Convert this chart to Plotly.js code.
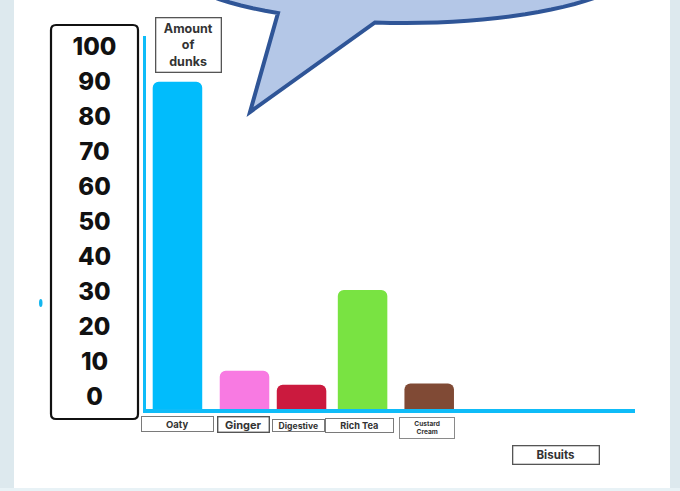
<!DOCTYPE html>
<html><head><meta charset="utf-8">
<script src="https://cdn.plot.ly/plotly-3.0.1.min.js"></script>
<style>html,body{margin:0;padding:0;background:#dde9ee;} #chart{width:680px;height:491px;}</style>
</head><body><div id="chart"></div>
<script>
// ---- data ----
const categories = ["Oaty", "Ginger", "Digestive", "Rich Tea", "Custard Cream"];
const categoryLabels = ["Oaty", "Ginger", "Digestive", "Rich Tea", "Custard<br>Cream"];
const dunks = [93.5, 10.9, 6.9, 34, 7.3];
const barColors = ["#01bcfc", "#f87ae2", "#cb1a3e", "#79e342", "#804a35"];
const yTickVals = [0, 10, 20, 30, 40, 50, 60, 70, 80, 90, 100];
const yTickText = ["0", "10", "20", "30", "40", "50", "60", "70", "80", "90", "100"];
const yTitle = "Amount<br>of<br>dunks";
const xTitle = "Bisuits";

// ---- geometry helpers (page pixels -> paper) ----
const L = 146, R = 635, T = 36, B = 409;
const PW = R - L, PH = B - T;
const px = x => (x - L) / PW;
const py = y => (B - y) / PH;
const PXPERUNIT = 3.5;
const X_RANGE = [-0.5, 7.27];
const PX_PER_CAT = PW / (X_RANGE[1] - X_RANGE[0]);
const BAR_W = 0.787;

// hand-placed styling (pixels)
const barShiftPx = [0, 4.1, -1.8, -3.7, 0];
const labelStyle = [
  {dx: 0.5,  cy: 423.7, w: 72.6, h: 16,   size: 9.5, border: "#7a7a7a", bw: 1},
  {dx: 2.6,  cy: 424.2, w: 52.6, h: 17,   size: 11,  border: "#555",    bw: 1.4},
  {dx: -5.3, cy: 425,   w: 52.6, h: 13.4, size: 8.6, border: "#7a7a7a", bw: 1},
  {dx: -6.8, cy: 425,   w: 68.7, h: 15.4, size: 9.2, border: "#7a7a7a", bw: 1},
  {dx: -2,   cy: 428.3, w: 56.3, h: 22,   size: 6.6, border: "#8a8a8a", bw: 1}
];

const FONT = "Inter, 'Open Sans', 'DejaVu Sans', sans-serif";

// speech bubble path
function bubblePath() {
  const cx = 405, cy = -42, rx = 240, ry = 65;
  const tip = [250, 112];
  const t1 = Math.acos((375 - cx) / rx);
  const t2 = Math.acos((278 - cx) / rx) - 2 * Math.PI;
  let d = "M" + px(tip[0]) + "," + py(tip[1]);
  const n = 90;
  for (let i = 0; i <= n; i++) {
    const t = t1 + (t2 - t1) * i / n;
    const x = cx + rx * Math.cos(t), y = cy + ry * Math.sin(t);
    d += " L" + px(x) + "," + py(y);
  }
  d += " Z";
  return d;
}
function roundRect(x0, y0, x1, y1, r) {
  const P = (x, y) => px(x) + "," + py(y);
  return "M" + P(x0 + r, y0) + " L" + P(x1 - r, y0) + " Q" + P(x1, y0) + " " + P(x1, y0 + r) +
    " L" + P(x1, y1 - r) + " Q" + P(x1, y1) + " " + P(x1 - r, y1) +
    " L" + P(x0 + r, y1) + " Q" + P(x0, y1) + " " + P(x0, y1 - r) +
    " L" + P(x0, y0 + r) + " Q" + P(x0, y0) + " " + P(x0 + r, y0) + " Z";
}

const trace = {
  type: "bar",
  x: categories,
  y: dunks,
  width: BAR_W,
  offset: barShiftPx.map(s => -BAR_W / 2 + s / PX_PER_CAT),
  marker: {color: barColors, cornerradius: 6, line: {width: 0}},
  hoverinfo: "x+y"
};

const annotations = categories.map((c, i) => ({
  xref: "x", yref: "paper", x: c, y: py(labelStyle[i].cy), xshift: labelStyle[i].dx,
  xanchor: "center", yanchor: "middle", showarrow: false,
  text: categoryLabels[i],
  width: labelStyle[i].w - 2 * labelStyle[i].bw, height: labelStyle[i].h - 2 * labelStyle[i].bw,
  bordercolor: labelStyle[i].border, borderwidth: labelStyle[i].bw, borderpad: 0, bgcolor: "#ffffff",
  font: {family: FONT, size: labelStyle[i].size, color: "#333", weight: 700}
}));
annotations.push({
  xref: "paper", yref: "paper", x: px(188.3), y: py(45), xanchor: "center", yanchor: "middle",
  showarrow: false, text: yTitle, width: 64, height: 53,
  bordercolor: "#555", borderwidth: 1.3, borderpad: 0, bgcolor: "#ffffff",
  font: {family: FONT, size: 12.5, color: "#333", weight: 700}
});
annotations.push({
  xref: "paper", yref: "paper", x: px(556), y: py(454.5), xanchor: "center", yanchor: "middle",
  showarrow: false, text: xTitle, width: 85, height: 17,
  bordercolor: "#555", borderwidth: 1.3, borderpad: 0, bgcolor: "#ffffff",
  font: {family: FONT, size: 11.5, color: "#333", weight: 700}
});

const shapes = [
  {type: "rect", xref: "paper", yref: "paper", x0: px(14), x1: px(670), y0: py(488), y1: py(0),
   fillcolor: "#ffffff", line: {width: 0}, layer: "below"},
  {type: "rect", xref: "paper", yref: "paper", x0: px(0), x1: px(680), y0: py(491), y1: py(488),
   fillcolor: "#e8f2f6", line: {width: 0}, layer: "below"},
  {type: "path", xref: "paper", yref: "paper", path: roundRect(51, 25, 138, 419, 5),
   fillcolor: "rgba(0,0,0,0)", line: {color: "#111", width: 2.2}, layer: "above"},
  {type: "path", xref: "paper", yref: "paper", path: bubblePath(),
   fillcolor: "#b4c7e7", line: {color: "#2f5597", width: 4}, layer: "above"},
  {type: "circle", xref: "paper", yref: "paper", x0: px(39), x1: px(42.5), y0: py(307), y1: py(299),
   fillcolor: "#13b6ef", line: {width: 0}}
];

const layout = {
  width: 680, height: 491,
  margin: {l: L, r: 680 - R, t: T, b: 491 - B, pad: 0},
  paper_bgcolor: "#dde9ee",
  plot_bgcolor: "rgba(0,0,0,0)",
  showlegend: false,
  xaxis: {
    type: "category", range: X_RANGE, showgrid: false, zeroline: false,
    showticklabels: false, ticks: "", showline: true, linecolor: "#0fbcf8", linewidth: 4, fixedrange: true
  },
  yaxis: {
    range: [0, PH / PXPERUNIT], showgrid: false, zeroline: false,
    tickvals: yTickVals, ticktext: yTickText, ticks: "",
    ticklabelshift: -12, ticklabelstandoff: 20,
    tickfont: {family: FONT, size: 24, color: "#111", weight: 800},
    showline: true, linecolor: "#0fbcf8", linewidth: 3, fixedrange: true
  },
  shapes: shapes,
  annotations: annotations
};

function centerTicks() {
  document.querySelectorAll("#chart g.ytick text").forEach(t => {
    const r = t.getBoundingClientRect();
    const c = r.left + r.width / 2;
    const oldX = parseFloat(t.getAttribute("x")) || 0;
    const nx = oldX + (94.5 - c);
    if (Math.abs(nx - oldX) > 0.3) t.setAttribute("x", nx);
  });
}

Plotly.newPlot("chart", [trace], layout, {displayModeBar: false, staticPlot: true}).then(gd => {
  centerTicks();
  gd.on("plotly_afterplot", centerTicks);
});
</script>
</body></html>
